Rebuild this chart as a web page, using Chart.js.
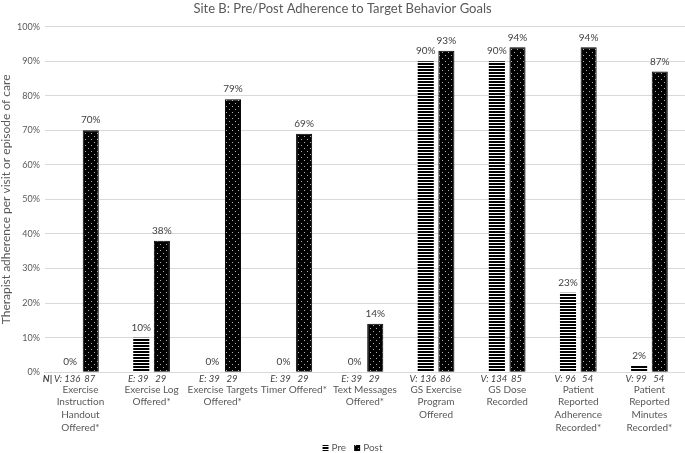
<!DOCTYPE html>
<html>
<head>
<meta charset="utf-8">
<script src="https://cdn.jsdelivr.net/npm/chart.js@4/dist/chart.umd.min.js"></script>
<style>
body{margin:0;background:#fff;}
#wrap{width:685px;height:453px;}
</style>
</head>
<body>
<div id="wrap"><canvas id="canvas" width="685" height="453"></canvas></div>
<script>
var categories = [
	['Exercise', 'Instruction', 'Handout', 'Offered*'],
	['Exercise Log', 'Offered*'],
	['Exercise Targets', 'Offered*'],
	['Timer Offered*'],
	['Text Messages', 'Offered*'],
	['GS Exercise', 'Program', 'Offered'],
	['GS Dose', 'Recorded'],
	['Patient', 'Reported', 'Adherence', 'Recorded*'],
	['Patient', 'Reported', 'Minutes', 'Recorded*']
];
var preValues = [0, 10, 0, 0, 0, 90, 90, 23, 2];
var postValues = [70, 38, 79, 69, 14, 93, 94, 94, 87];
// N per group: V = visits, E = episodes
var nPrefix = ['V', 'E', 'E', 'E', 'E', 'V', 'V', 'V', 'V'];
var preN = [136, 39, 39, 39, 39, 136, 134, 96, 99];
var postN = [87, 29, 29, 29, 29, 86, 85, 54, 54];
var seriesNames = ['Pre', 'Post'];

var FONT = 'Lato';
var GREY = '#595959';

var page = {
	init : function(){
		var ctx = document.getElementById('canvas').getContext('2d');
		page.stripes = page.stripePattern(ctx);
		page.dots = page.dotPattern(ctx);
		page.chart = new Chart(ctx, page.config());
	},
	stripePattern : function(ctx){
		var c = document.createElement('canvas');
		c.width = 4; c.height = 3;
		var g = c.getContext('2d');
		g.fillStyle = '#fff';
		g.fillRect(0, 0, 4, 3);
		g.fillStyle = '#000';
		g.fillRect(0, 0, 4, 2);
		return ctx.createPattern(c, 'repeat');
	},
	dotPattern : function(ctx){
		var c = document.createElement('canvas');
		c.width = 6; c.height = 6;
		var g = c.getContext('2d');
		g.fillStyle = '#000';
		g.fillRect(0, 0, 6, 6);
		g.fillStyle = '#b0b0b0';
		g.fillRect(1, 1, 1, 1);
		g.fillRect(4, 4, 1, 1);
		return ctx.createPattern(c, 'repeat');
	},
	// value labels above bars, the N row under the axis and the legend
	labelsPlugin : {
		id : 'barLabels',
		afterDatasetsDraw : function(chart){
			var ctx = chart.ctx;
			var area = chart.chartArea;
			ctx.save();
			ctx.textAlign = 'center';
			ctx.textBaseline = 'bottom';
			ctx.fillStyle = '#404040';
			ctx.font = '10px ' + FONT;
			chart.data.datasets.forEach(function(ds, i){
				chart.getDatasetMeta(i).data.forEach(function(bar, j){
					ctx.fillText(ds.data[j] + '%', bar.x, bar.y - 5);
				});
			});

			ctx.textBaseline = 'middle';
			ctx.font = 'italic 9.5px ' + FONT;
			var preBars = chart.getDatasetMeta(0).data;
			var postBars = chart.getDatasetMeta(1).data;
			var ny = area.bottom + 7;
			for(var j = 0; j < preN.length; j++){
				ctx.fillText(nPrefix[j] + ': ' + preN[j], preBars[j].x - 3, ny);
				ctx.fillText(postN[j], postBars[j].x - 1, ny);
			}
			ctx.font = 'bold italic 9.5px ' + FONT;
			ctx.textAlign = 'left';
			ctx.fillText('N|', area.left - 2, ny);

			// legend
			ctx.font = '10px ' + FONT;
			var box = 6, gap = 3, space = 8;
			var total = 0;
			chart.data.datasets.forEach(function(ds){
				total += box + gap + ctx.measureText(ds.label).width + space;
			});
			total -= space;
			var lx = chart.width / 2 + 10 - total / 2;
			var ly = chart.height - 5;
			chart.data.datasets.forEach(function(ds){
				ctx.fillStyle = ds.backgroundColor;
				ctx.fillRect(lx, ly - box / 2, box, box);
				ctx.fillStyle = GREY;
				ctx.fillText(ds.label, lx + box + gap, ly);
				lx += box + gap + ctx.measureText(ds.label).width + space;
			});
			ctx.restore();
		}
	},
	config : function(){
		return {
			type : 'bar',
			data : {
				labels : categories,
				datasets : [{
					label : seriesNames[0],
					data : preValues,
					backgroundColor : page.stripes,
					borderWidth : 0
				}, {
					label : seriesNames[1],
					data : postValues,
					backgroundColor : page.dots,
					borderColor : '#000',
					borderWidth : 1
				}]
			},
			options : {
				responsive : false,
				animation : false,
				layout : { padding : { top : 0, right : 0, left : 0, bottom : 8 } },
				categoryPercentage : 0.58,
				barPercentage : 0.78,
				plugins : {
					title : {
						display : true,
						text : 'Site B: Pre/Post Adherence to Target Behavior Goals',
						color : GREY,
						font : { family : FONT, size : 13, weight : 'normal' },
						padding : { top : 1, bottom : 10 }
					},
					legend : { display : false },
					tooltip : { enabled : false }
				},
				scales : {
					x : {
						grid : { display : false, drawTicks : false },
						border : { color : '#d9d9d9' },
						ticks : {
							color : GREY,
							font : { family : FONT, size : 10, lineHeight : 1.27 },
							padding : 11,
							maxRotation : 0,
							autoSkip : false
						}
					},
					y : {
						min : 0,
						max : 100,
						grid : { color : '#d9d9d9', drawTicks : false },
						border : { display : false },
						ticks : {
							stepSize : 10,
							color : GREY,
							padding : 5,
							font : { family : FONT, size : 9 },
							callback : function(v){ return v + '%'; }
						},
						title : {
							display : true,
							text : 'Therapist adherence per visit or episode of care',
							color : GREY,
							font : { family : FONT, size : 12, lineHeight : 1 },
							padding : 0
						}
					}
				}
			},
			plugins : [page.labelsPlugin]
		};
	}
};

page.init();
</script>
</body>
</html>
